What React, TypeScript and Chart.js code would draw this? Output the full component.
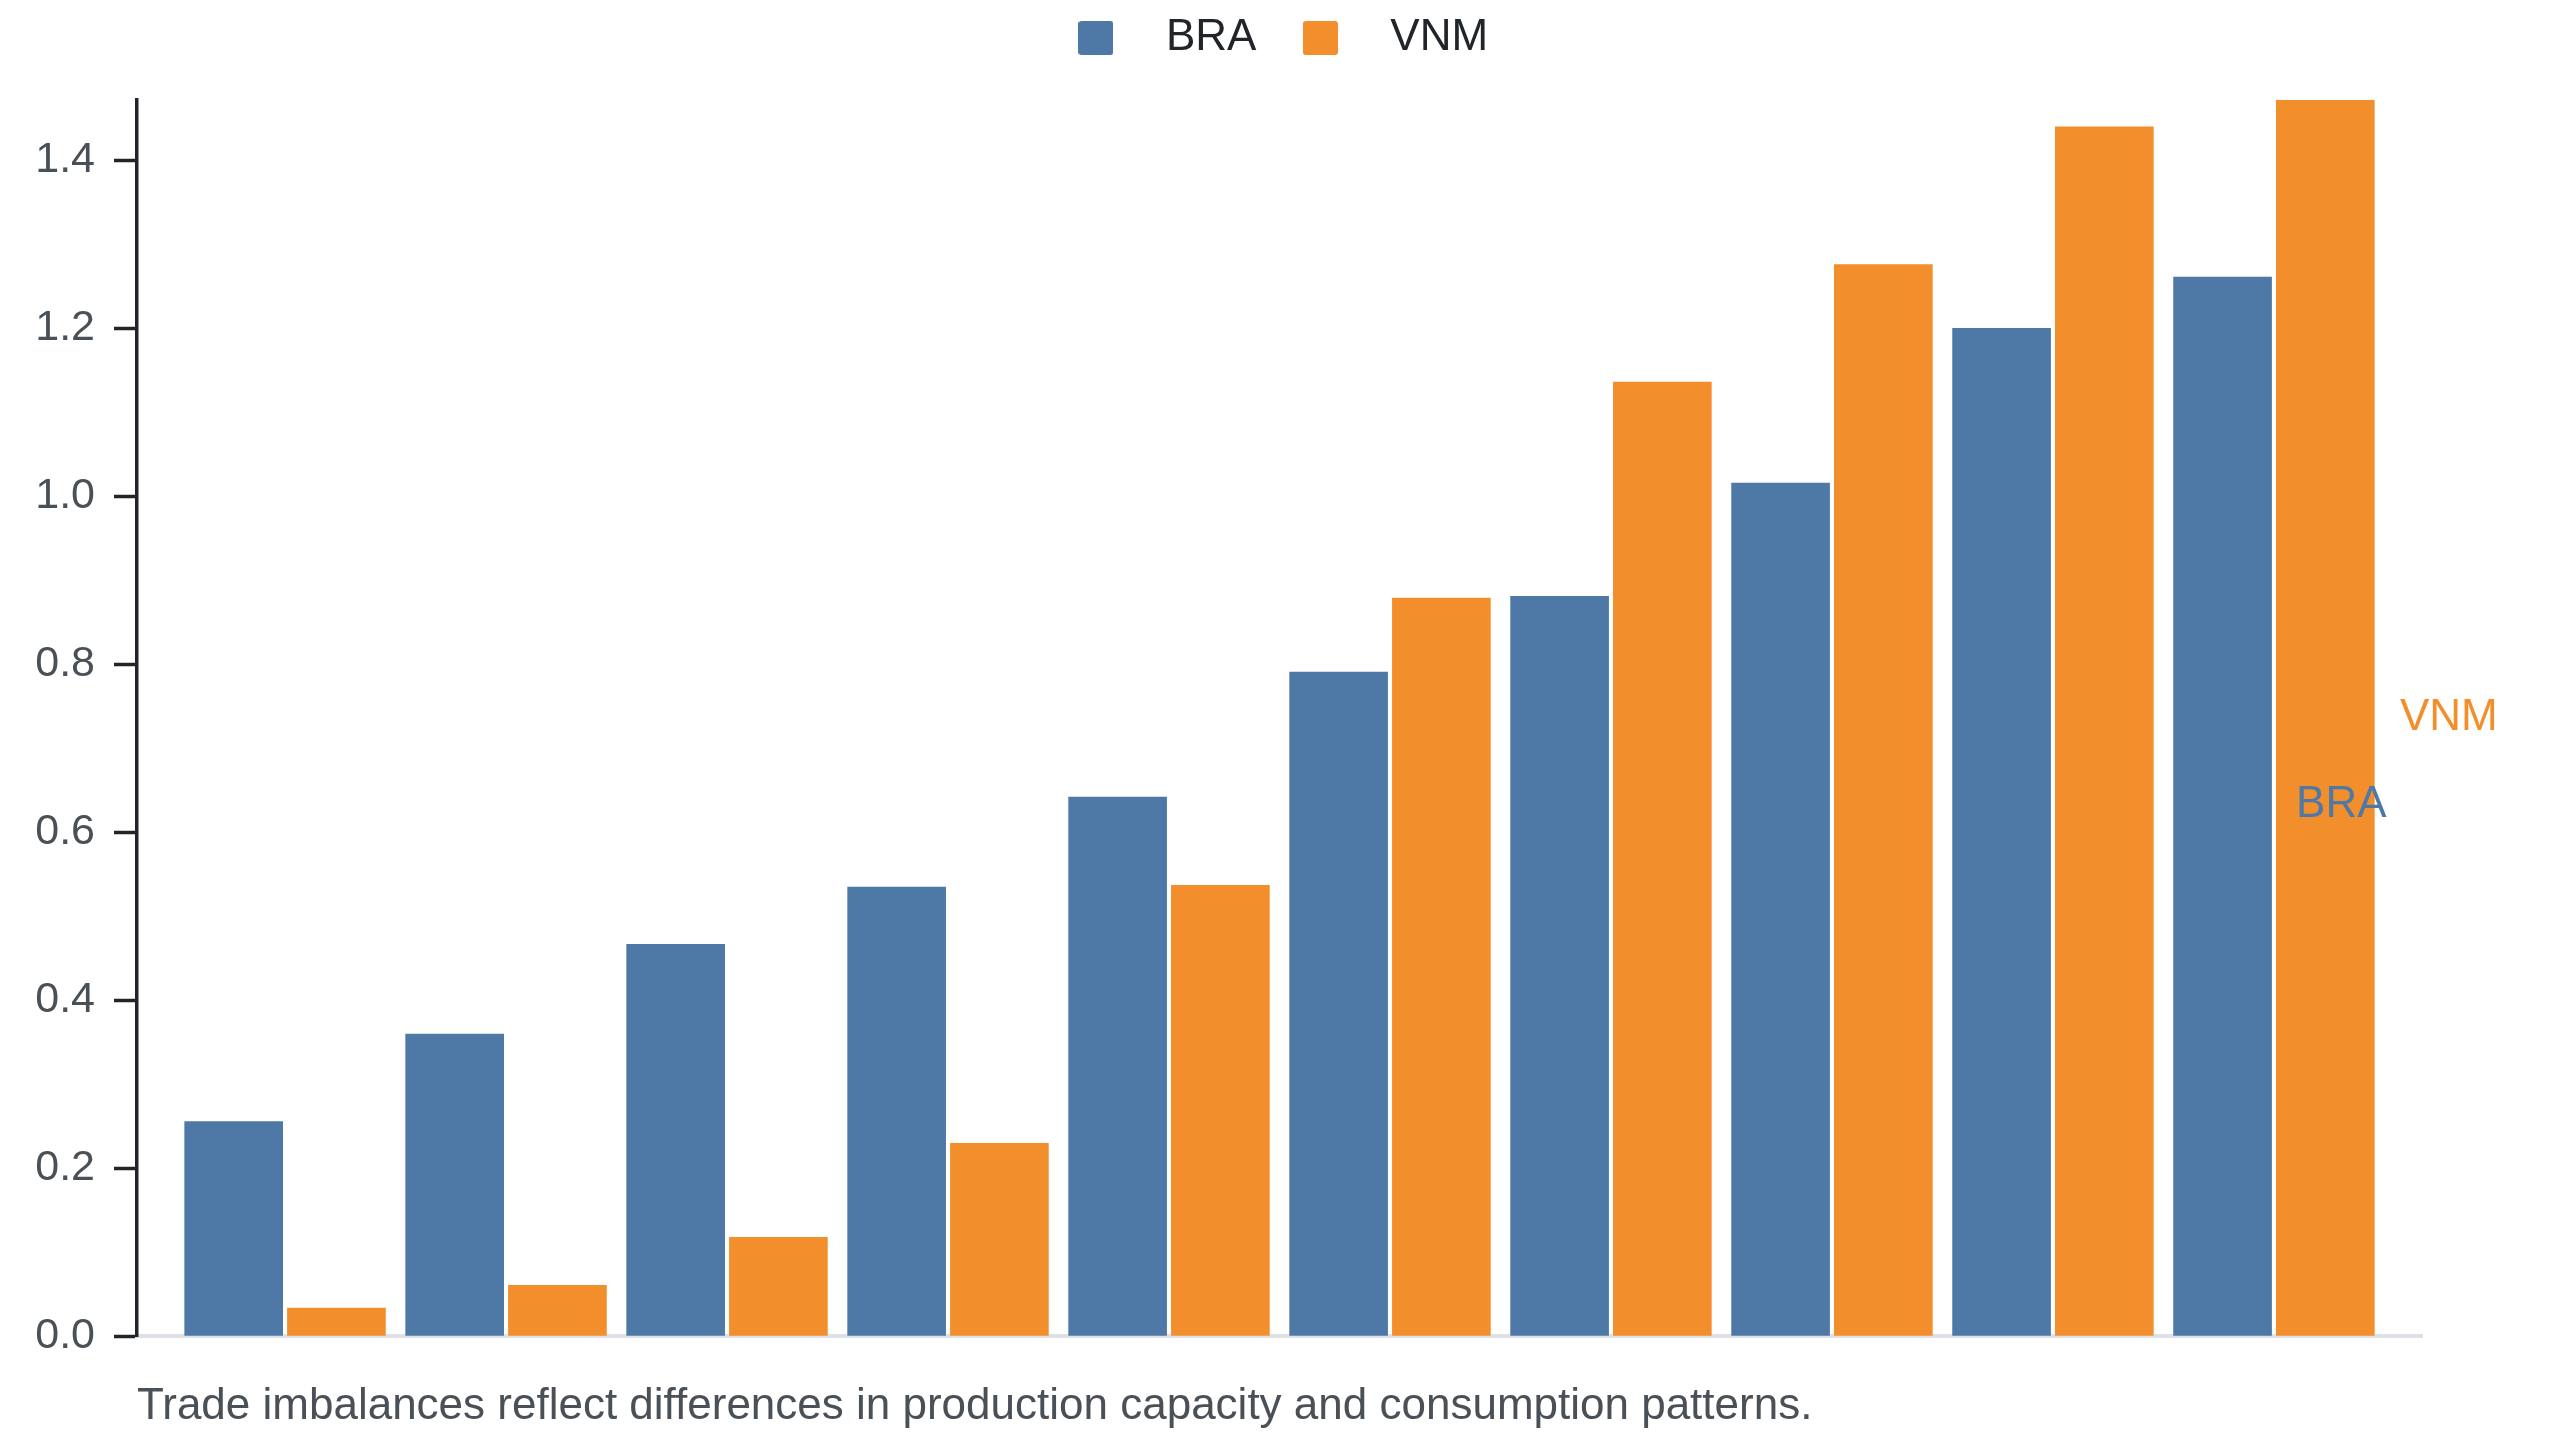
import { useEffect, useRef } from 'react';
import Chart from 'chart.js/auto';

// one slot per period on a linear x axis (no tick labels in the original)
const periods = [0, 1, 2, 3, 4, 5, 6, 7, 8, 9];
const seriesNames = ['BRA', 'VNM'];
const braValues = [0.256, 0.36, 0.467, 0.535, 0.642, 0.791, 0.881, 1.016, 1.2, 1.261];
const vnmValues = [0.034, 0.061, 0.118, 0.23, 0.537, 0.879, 1.136, 1.276, 1.44, 1.4715];
const yTicks = [0, 0.2, 0.4, 0.6, 0.8, 1.0, 1.2, 1.4];

// direct series labels at the right, in data units
const endLabelX = [9.1, 9.57];
const endLabelY = [0.632, 0.736];

const caption = 'Trade imbalances reflect differences in production capacity and consumption patterns.';

const COLORS = ['#4e79a7', '#f28e2b'];
const FONT = "'Liberation Sans', Arial, Helvetica, sans-serif";

function makeSwatch(color: string) {
  const c = document.createElement('canvas');
  c.width = 35;
  c.height = 34;
  const g = c.getContext('2d')!;
  g.fillStyle = color;
  g.beginPath();
  g.roundRect(0, 0, 35, 34, 3);
  g.fill();
  return c;
}

const endLabels = {
  id: 'endLabels',
  afterDatasetsDraw(chart: any) {
    const { ctx, scales } = chart;
    ctx.save();
    ctx.font = `44px ${FONT}`;
    ctx.textAlign = 'left';
    ctx.textBaseline = 'middle';
    seriesNames.forEach((name, i) => {
      ctx.fillStyle = COLORS[i];
      ctx.fillText(name, scales.x.getPixelForValue(endLabelX[i]), scales.y.getPixelForValue(endLabelY[i]));
    });
    ctx.restore();
  },
};

export default function App() {
  const canvasRef = useRef<HTMLCanvasElement>(null);
  const chartRef = useRef<Chart | null>(null);

  useEffect(() => {
    if (!canvasRef.current) return;
    if (chartRef.current) chartRef.current.destroy();

    const swatches = COLORS.map(makeSwatch);
    const series = [braValues, vnmValues];

    chartRef.current = new Chart(canvasRef.current, {
      type: 'bar',
      data: {
        datasets: seriesNames.map((name, i) => ({
          label: name,
          data: periods.map((p, j) => ({ x: p, y: series[i][j] })),
          backgroundColor: COLORS[i],
          borderWidth: 0,
          categoryPercentage: 0.93,
          barPercentage: 0.96,
        })),
      },
      options: {
        animation: false,
        responsive: true,
        maintainAspectRatio: false,
        layout: { padding: { left: 0, right: 24, top: 0, bottom: 0 } },
        plugins: {
          tooltip: { enabled: false },
          legend: {
            position: 'top',
            align: 'center',
            labels: {
              usePointStyle: true,
              pointStyleWidth: 96,
              boxHeight: 34,
              padding: 16,
              color: '#212529',
              font: { family: FONT, size: 44 },
              generateLabels: (chart: any) =>
                chart.data.datasets.map((ds: any, i: number) => ({
                  text: ds.label,
                  fillStyle: COLORS[i],
                  strokeStyle: COLORS[i],
                  lineWidth: 0,
                  pointStyle: swatches[i],
                  hidden: false,
                  datasetIndex: i,
                  fontColor: '#212529',
                })),
            },
          },
          // empty spacer between legend and plot
          subtitle: {
            display: true,
            text: '',
            position: 'top',
            weight: 500,
            font: { size: 1, lineHeight: 1 },
            padding: { top: 29, bottom: 0 },
          },
          title: {
            display: true,
            text: caption,
            position: 'bottom',
            align: 'start',
            fullSize: false,
            color: '#495057',
            font: { family: FONT, size: 44, weight: 'normal', lineHeight: 1.2 },
            padding: { top: 44, bottom: 7 },
          },
        },
        scales: {
          x: {
            type: 'linear',
            min: -0.67,
            max: 9.67,
            offset: false,
            z: 1,
            ticks: { display: false, stepSize: 1, includeBounds: false },
            grid: { display: false, drawTicks: false, offset: false },
            border: { display: true, color: '#dee2e6', width: 4 },
          },
          y: {
            position: 'left',
            min: 0,
            max: Math.max(...vnmValues),
            afterBuildTicks: (scale: any) => {
              scale.ticks = yTicks.map((v) => ({ value: v }));
            },
            afterFit: (scale: any) => {
              scale.width = 137;
            },
            ticks: {
              padding: 19,
              color: '#495057',
              font: { family: FONT, size: 43 },
              callback: (v: any) => Number(v).toFixed(1),
            },
            grid: {
              display: true,
              drawOnChartArea: false,
              drawTicks: true,
              tickLength: 23,
              tickWidth: 3.5,
              tickColor: '#212529',
            },
            border: { display: true, color: '#212529', width: 3.5 },
          },
          yRight: {
            type: 'linear',
            position: 'right',
            display: true,
            ticks: { display: false },
            grid: { display: false, drawTicks: false },
            border: { display: false },
            afterFit: (scale: any) => {
              scale.width = 114;
            },
          },
        },
      },
      plugins: [endLabels],
    });

    return () => {
      if (chartRef.current) {
        chartRef.current.destroy();
        chartRef.current = null;
      }
    };
  }, []);

  return (
    <div style={{ position: 'fixed', left: 0, top: 0, width: '2560px', height: '1440px', background: '#fff' }}>
      <canvas ref={canvasRef} />
    </div>
  );
}
